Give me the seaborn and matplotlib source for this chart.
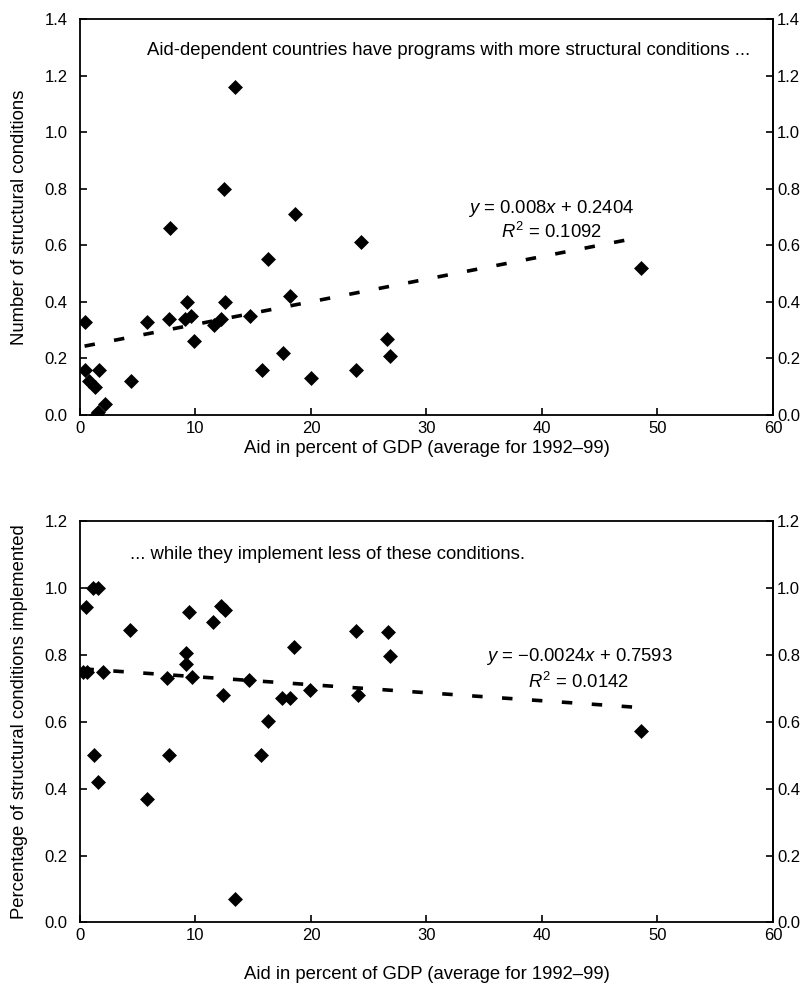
import numpy as np
import pandas as pd
import matplotlib
matplotlib.use("Agg")
import matplotlib.pyplot as plt
from matplotlib.ticker import FormatStrFormatter
import seaborn as sns

# Aid in percent of GDP and number of structural conditions per program
aid_top = [0.4, 5.8, 0.45, 1.65, 0.75, 1.3, 4.4, 2.15, 1.35, 1.6, 12.5, 7.8,
           18.6, 16.3, 9.3, 12.6, 18.2, 7.7, 9.1, 9.6, 9.9, 11.6, 12.2, 14.7,
           17.6, 15.8, 20.0, 13.4, 24.3, 23.9, 26.6, 26.8, 48.6]
conditions = [0.33, 0.33, 0.16, 0.16, 0.12, 0.10, 0.12, 0.04, 0.0, 0.01, 0.80, 0.66,
              0.71, 0.55, 0.40, 0.40, 0.42, 0.34, 0.34, 0.35, 0.26, 0.32, 0.34, 0.35,
              0.22, 0.16, 0.13, 1.16, 0.61, 0.16, 0.27, 0.21, 0.52]

# Aid in percent of GDP and share of structural conditions implemented
aid_bottom = [1.15, 1.6, 0.5, 4.3, 0.3, 0.6, 2.0, 1.2, 1.6, 5.8, 9.4, 12.2,
              12.6, 11.5, 9.2, 9.15, 7.5, 9.7, 12.4, 14.6, 18.5, 17.5, 18.2, 19.9,
              16.3, 15.7, 7.7, 13.4, 23.9, 26.7, 26.8, 24.1, 48.6]
implemented = [1.0, 1.0, 0.945, 0.875, 0.75, 0.75, 0.75, 0.50, 0.42, 0.37, 0.93, 0.947,
               0.935, 0.90, 0.805, 0.772, 0.73, 0.733, 0.68, 0.724, 0.825, 0.673, 0.673, 0.695,
               0.603, 0.50, 0.50, 0.07, 0.873, 0.868, 0.797, 0.681, 0.574]

# Fitted linear trends (slope, intercept, R^2)
fit_top = (0.008, 0.2404, 0.1092)
fit_bottom = (-0.0024, 0.7593, 0.0142)

x_ticks = [0, 10, 20, 30, 40, 50, 60]
y_ticks_top = [0.0, 0.2, 0.4, 0.6, 0.8, 1.0, 1.2, 1.4]
y_ticks_bottom = [0.0, 0.2, 0.4, 0.6, 0.8, 1.0, 1.2]

sns.set_style("ticks")
plt.rcParams["font.family"] = ["Liberation Sans", "DejaVu Sans"]
plt.rcParams["mathtext.fontset"] = "custom"
plt.rcParams["mathtext.rm"] = "Liberation Sans"
plt.rcParams["mathtext.it"] = "Liberation Sans:italic"
plt.rcParams["text.color"] = "black"
plt.rcParams["axes.labelcolor"] = "black"
plt.rcParams["xtick.color"] = "black"
plt.rcParams["ytick.color"] = "black"

fig = plt.figure(figsize=(8.11, 9.91), dpi=100)
ax1 = fig.add_axes([0.0986, 0.5812, 0.8545, 0.3996])
ax2 = fig.add_axes([0.0986, 0.0693, 0.8545, 0.4045])

FS = 13.3
TS = 12
XLABEL = "Aid in percent of GDP (average for 1992\u201399)"


def panel(ax, x, y, fit, yticks, ylabel, note, note_xy, eq_xy, eq_dy, xlab_y):
    df = pd.DataFrame({"aid": x, "val": y})
    sns.scatterplot(data=df, x="aid", y="val", ax=ax, marker="D", color="black",
                    s=58, linewidth=0, zorder=3)
    slope, icpt, r2 = fit
    xs = np.array([min(x), max(x)])
    trend = pd.DataFrame({"aid": xs, "val": slope * xs + icpt})
    sns.lineplot(data=trend, x="aid", y="val", ax=ax, color="black", lw=2.6,
                 dashes=False, zorder=2)
    ax.lines[-1].set_dashes((2.9, 5.4))

    ax.set_xlim(0, 60)
    ax.set_ylim(0, yticks[-1])
    ax.set_xticks(x_ticks)
    ax.set_yticks(yticks)
    ax.yaxis.set_major_formatter(FormatStrFormatter("%.1f"))
    ax.tick_params(axis="both", direction="in", length=5, width=1.2,
                   labelsize=TS)
    ax.tick_params(axis="x", pad=4)
    ax.tick_params(axis="y", pad=9)

    # right-hand copy of the value scale
    sec = ax.secondary_yaxis("right")
    sec.set_yticks(yticks)
    sec.yaxis.set_major_formatter(FormatStrFormatter("%.1f"))
    sec.tick_params(axis="y", direction="in", length=5, width=1.2,
                    labelsize=TS, pad=3)
    sec.spines["right"].set_linewidth(1.3)

    for sp in ax.spines.values():
        sp.set_visible(True)
        sp.set_linewidth(1.3)
        sp.set_color("black")
    ax.set_xlabel(XLABEL, fontsize=FS)
    ax.xaxis.set_label_coords(0.5, xlab_y)
    ax.set_ylabel(ylabel, fontsize=FS)
    ax.yaxis.set_label_coords(-0.075, 0.5)

    ax.text(note_xy[0], note_xy[1], note, fontsize=FS, ha="left", va="center")
    sign = "+" if icpt >= 0 else "\u2212"
    s_txt = f"{slope:.4f}".rstrip("0").replace("-", "\u2212")
    ax.text(eq_xy[0], eq_xy[1], f"$y$ = {s_txt}$x$ {sign} {abs(icpt):.4f}",
            fontsize=FS, ha="center", va="center")
    ax.text(eq_xy[0], eq_xy[1] - eq_dy, f"$R^2$ = {r2:.4f}",
            fontsize=FS, ha="center", va="center")


panel(ax1, aid_top, conditions, fit_top, y_ticks_top,
      "Number of structural conditions",
      "Aid-dependent countries have programs with more structural conditions ...",
      (5.8, 1.29), (40.8, 0.731), 0.084, -0.064)
panel(ax2, aid_bottom, implemented, fit_bottom, y_ticks_bottom,
      "Percentage of structural conditions implemented",
      "... while they implement less of these conditions.",
      (4.3, 1.10), (43.2, 0.795), 0.076, -0.11)

fig.savefig("out.png", dpi=100)
